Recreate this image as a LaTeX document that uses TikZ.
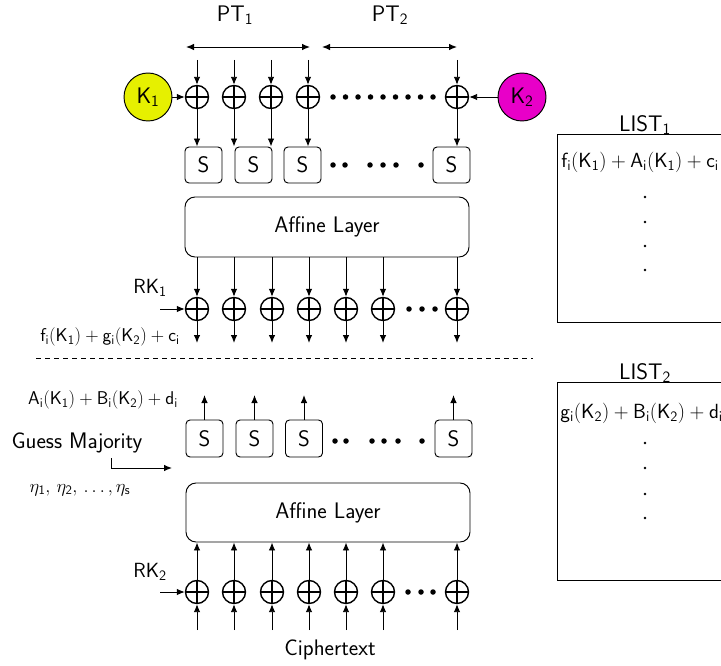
\RequirePackage{fix-cm}
\documentclass[tikz,border=0pt]{standalone}
\usetikzlibrary{arrows.meta}
\definecolor{kyellow}{RGB}{230,240,0}
\definecolor{kmagenta}{RGB}{232,0,200}
\begin{document}
\begin{tikzpicture}[x=1pt,y=-1pt,
  font=\sffamily\fontsize{22.5}{27}\selectfont,
  >={Latex[length=8pt,width=6.5pt]}, line width=0.95pt,
  xorc/.style={circle, draw, line width=1.4pt, minimum size=23pt, inner sep=0pt,
    path picture={\draw[line width=1.4pt] (path picture bounding box.north) -- (path picture bounding box.south)
      (path picture bounding box.west) -- (path picture bounding box.east);}},
  sbox/.style={draw, rounded corners=4pt, minimum width=37pt, minimum height=36pt, inner sep=0pt},
  affine/.style={draw, rounded corners=10pt, minimum width=284pt, minimum height=60pt, inner sep=0pt},
  keyc/.style={circle, draw, minimum size=48pt, inner sep=0pt},
  bigdot/.style={circle, fill, inner sep=0pt, minimum size=5.5pt},
  smalldot/.style={circle, fill, inner sep=0pt, minimum size=2.8pt},
  lbl/.style={inner sep=0pt},
  rklbl/.style={inner sep=0pt, font=\sffamily\fontsize{20.5}{24}\selectfont},
  fml/.style={inner sep=0pt, font=\fontsize{18.5}{22}\selectfont},
  lfml/.style={inner sep=0pt, anchor=west, font=\fontsize{20.5}{24}\selectfont},
  listbox/.style={draw, anchor=north west, minimum width=200pt, inner sep=0pt}]
\clip (0,0) rectangle (721,666);

% ---------- top ----------
\node[lbl] (pt1) at (235,15) {PT$_\mathsf{1}$};
\node[lbl] (pt2) at (390,15) {PT$_\mathsf{2}$};
\coordinate (p1a) at (186,47); \coordinate (p1b) at (310,47);
\coordinate (p2a) at (322,47); \coordinate (p2b) at (457,47);
\draw[<->] (p1a) -- (p1b);
\draw[<->] (p2a) -- (p2b);

\node[keyc, fill=kyellow] (k1) at (148,97) {K$_\mathsf{1}$};
\node[keyc, fill=kmagenta] (k2) at (522,97) {K$_\mathsf{2}$};

\node[sbox] (s1) at (203.5,165) {S};
\node[sbox] (s2) at (253.5,165) {S};
\node[sbox] (s3) at (302.5,165) {S};
\node[sbox] (s4) at (451.5,165) {S};

\foreach \n/\x in {1/197,2/234,3/271,4/308,5/457}{
  \node[xorc] (t\n) at (\x,97) {};
  \coordinate (ti\n) at (\x,60);
  \draw[->] (ti\n) -- (t\n);
  \draw[->] (t\n) -- (t\n |- s1.north);
}
\draw[->] (k1) -- (t1);
\draw[->] (k2) -- (t5);
\foreach \x in {333,345.5,358,370.5,383,395.5,408,420.5,433}
  \node[bigdot] at (\x,97) {};
\foreach \x in {333,345,370,383,396,421}
  \node[bigdot] at (\x,165) {};

\node[affine] (a1) at (327,227) {Affine Layer};

\foreach \n/\x in {1/197,2/234,3/272,4/309,5/346,6/383,7/457}{
  \node[xorc] (m\n) at (\x,309) {};
  \coordinate (mo\n) at (\x,343);
  \draw[->] (a1.south -| m\n) -- (m\n);
  \draw[->] (m\n) -- (mo\n);
}
\foreach \x in {409,422,435}
  \node[bigdot] at (\x,309) {};
\node[rklbl] (rk1) at (150,288) {RK$_\mathsf{1}$};
\coordinate (rk1in) at (160,309);
\draw[->] (rk1in) -- (m1);
\node[fml] (f1) at (110,337) {$\mathsf{f_i(K_1) + g_i(K_2) + c_i}$};

\coordinate (dl) at (36,358); \coordinate (dr) at (533,358);
\draw[dash pattern=on 5pt off 4pt] (dl) -- (dr);

% ---------- bottom ----------
\node[fml] (f2) at (103,400) {$\mathsf{A_i(K_1) + B_i(K_2) + d_i}$};
\node[sbox, minimum height=37pt] (b1) at (204.5,438.5) {S};
\node[sbox, minimum height=37pt] (b2) at (254.5,438.5) {S};
\node[sbox, minimum height=37pt] (b3) at (304,438.5) {S};
\node[sbox, minimum height=37pt] (b4) at (453.5,438.5) {S};
\foreach \n/\x in {1/204.5,2/254.5,3/304,4/453.5}{
  \coordinate (bo\n) at (\x,395);
  \draw[->] (b\n) -- (bo\n);
}
\foreach \x in {335,346,372,384,398,422}
  \node[bigdot] at (\x,441) {};

\node[lbl] (gm) at (77,443) {Guess Majority};
\coordinate (g1) at (111,458); \coordinate (g2) at (172,468);
\draw[->] (g1) |- (g2);
\node[fml] (eta) at (80,490) {$\eta_\mathsf{1},\,\eta_\mathsf{2},\,\ldots,\eta_\mathsf{s}$};

\node[affine, minimum height=59pt] (a2) at (328,512.5) {Affine Layer};

\foreach \n/\x in {1/197,2/234,3/272,4/309,5/346,6/383,7/457}{
  \node[xorc] (r\n) at (\x,592) {};
  \coordinate (ci\n) at (\x,630);
  \draw[->] (r\n) -- (a2.south -| r\n);
  \draw[->] (ci\n) -- (r\n);
}
\foreach \x in {408,421,433}
  \node[bigdot] at (\x,592) {};
\node[rklbl] (rk2) at (150,572) {RK$_\mathsf{2}$};
\coordinate (rk2in) at (160,592);
\draw[->] (rk2in) -- (r1);
\node[lbl] (ct) at (330,650) {Ciphertext};

% ---------- lists ----------
\node[lbl] (list1) at (645,125) {LIST$_\mathsf{1}$};
\node[listbox, minimum height=188pt] (L1) at (557,134) {};
\node[lfml] (lf1) at (561,162) {$\mathsf{f_i(K_1) + A_i(K_1) + c_i}$};
\foreach \y in {197,222,246,270}
  \node[smalldot] at (645,\y) {};

\node[lbl] (list2) at (645,373) {LIST$_\mathsf{2}$};
\node[listbox, minimum height=198pt] (L2) at (557,382) {};
\node[lfml] (lf2) at (560,413) {$\mathsf{g_i(K_2) + B_i(K_2) + d_i}$};
\foreach \y in {443,468,494,518}
  \node[smalldot] at (645,\y) {};
\end{tikzpicture}
\end{document}
